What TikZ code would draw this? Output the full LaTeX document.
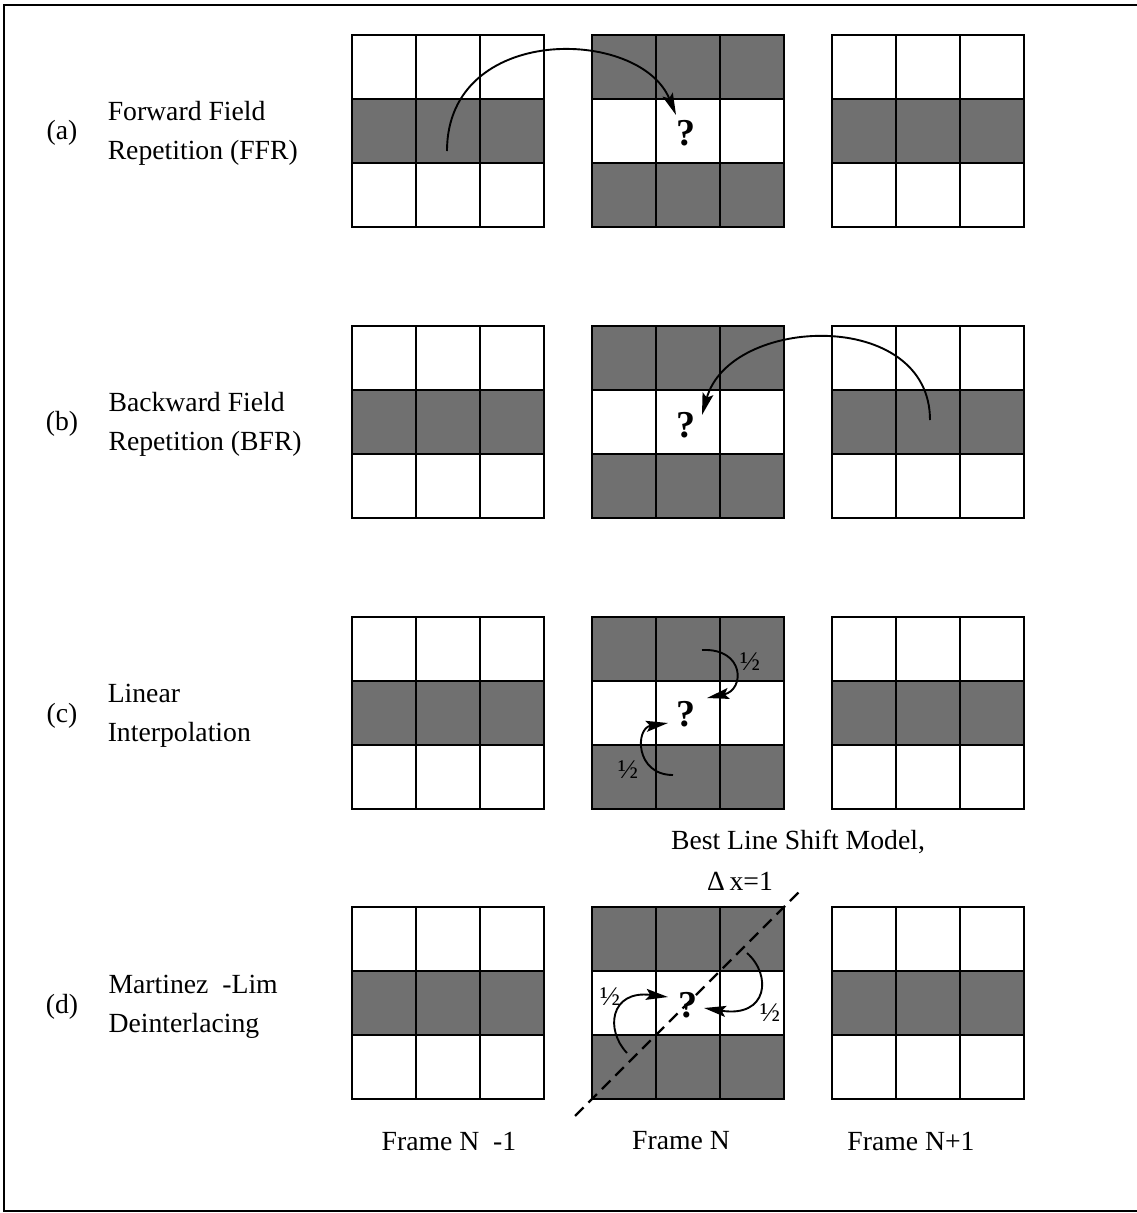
\documentclass[tikz,border=0pt]{standalone}
\usepackage{fontspec}
\setmainfont{Liberation Serif}
\usepackage{tikz}
\usetikzlibrary{positioning,arrows.meta}

\definecolor{cellgray}{RGB}{112,112,112}
\newcommand{\bodyfont}{\fontsize{27.7}{39}\selectfont}

% 3x3 block of pixels: name, left x, top y, list of shaded rows
\newcommand{\pixgrid}[4]{%
  \foreach \ii in {0,1,2}
    \foreach \jj in {0,1,2}
      \node[pix] (#1-\ii\jj) at (#2+32+64*\jj, #3+32+64*\ii) {};
  \foreach \ii in {#4}
    \foreach \jj in {0,1,2}
      \node[darkpix] at (#2+32+64*\jj, #3+32+64*\ii) {};
}

\begin{document}
\begin{tikzpicture}[x=1pt,y=-1pt,
    pix/.style={draw,line width=2.2pt,fill=white,minimum size=64pt,inner sep=0pt,outer sep=0pt},
    darkpix/.style={pix,fill=cellgray},
    flow/.style={line width=1.9pt,-{Stealth[length=22pt,width=11pt,inset=4pt]}},
    qmark/.style={font=\fontsize{38}{38}\selectfont\bfseries,inner sep=0pt},
    half/.style={font=\fontsize{27}{27}\selectfont,inner sep=0pt},
    rowtag/.style={font=\bodyfont,inner sep=0pt},
    desc/.style={font=\bodyfont,align=left,inner sep=0pt,anchor=west},
    lbl/.style={font=\bodyfont,inner sep=0pt}]
  \useasboundingbox (0,0) rectangle (1136,1213);
  \draw[line width=2pt] (4,5) rectangle (1160,1211);

  % the three frames for every method
  \foreach \lab/\ytop in {a/35,b/326,c/617,d/907}{
    \pixgrid{\lab-L}{352}{\ytop}{1}
    \pixgrid{\lab-M}{592}{\ytop}{0,2}
    \pixgrid{\lab-R}{832}{\ytop}{1}
  }

  % method names
  \node[rowtag] (a-tag) at (62,133)  {(a)};
  \node[rowtag] (b-tag) at (62,424)  {(b)};
  \node[rowtag] (c-tag) at (62,716)  {(c)};
  \node[rowtag] (d-tag) at (62,1007) {(d)};
  \node[desc] (a-txt) [right=30pt of a-tag.east] {Forward Field\\Repetition (FFR)};
  \node[desc] (b-txt) [right=30pt of b-tag.east] {Backward Field\\Repetition (BFR)};
  \node[desc] (c-txt) [right=30pt of c-tag.east] {Linear\\Interpolation};
  \node[desc] (d-txt) [right=30pt of d-tag.east] {Martinez\enspace-Lim\\Deinterlacing};

  % missing pixels
  \node[qmark] (a-q) at ([shift={(-2,2)}]a-M-11.center) {?};
  \node[qmark] (b-q) at ([shift={(-2,3)}]b-M-11.center) {?};
  \node[qmark] (c-q) at ([shift={(-2,1)}]c-M-11.center) {?};
  \node[qmark] (d-q) at ([shift={(0,2)}]d-M-11.center) {?};

  % end points of the arrows
  \coordinate (a-src)  at ([shift={(-1,20)}]a-L-11.center);
  \coordinate (a-dst)  at ([shift={(-12,-16)}]a-M-11.center);
  \coordinate (b-src)  at ([shift={(2,-2)}]b-R-11.center);
  \coordinate (b-dst)  at ([shift={(14,-7)}]b-M-11.center);
  \coordinate (c-src1) at ([shift={(14,1)}]c-M-01.center);
  \coordinate (c-dst1) at ([shift={(19,-15)}]c-M-11.center);
  \coordinate (c-src2) at ([shift={(-15,-2)}]c-M-21.center);
  \coordinate (c-dst2) at ([shift={(-20,10)}]c-M-11.center);
  \coordinate (d-src1) at ([shift={(3,-14)}]d-M-20.center);
  \coordinate (d-dst1) at ([shift={(-20,-6)}]d-M-11.center);
  \coordinate (d-src2) at ([shift={(-5,14)}]d-M-02.center);
  \coordinate (d-dst2) at ([shift={(16,5)}]d-M-11.center);

  \draw[flow] (a-src) .. controls +(0,-128) and +(-36,-88) .. (a-dst);
  \draw[flow] (b-src) .. controls +(0,-112) and +(28,-100) .. (b-dst);
  \draw[flow] (c-src1) .. controls +(43,-2) and +(38,-8) .. (c-dst1);
  \draw[flow] (c-src2) .. controls +(-38,0) and +(-33,5) .. (c-dst2);
  \draw[flow] (d-src1) .. controls +(-22,-23) and +(-58,-7) .. (d-dst1);
  \draw[flow] (d-src2) .. controls +(25,22) and +(64,10) .. (d-dst2);

  % weights
  \node[half] (c-half1) at ([shift={(-2,13)}]c-M-02.center) {½};
  \node[half] (c-half2) at ([shift={(4,-7)}]c-M-20.center) {½};
  \node[half] (d-half1) at ([shift={(-14,-6)}]d-M-10.center) {½};
  \node[half] (d-half2) at ([shift={(18,10)}]d-M-12.center) {½};

  % shift direction through the middle frame
  \draw[line width=2.2pt,dash pattern=on 12pt off 7pt,shorten <=-24pt,shorten >=-22pt]
    (d-M-20.south west) -- (d-M-02.north east);
  \node[lbl] (model) at (798,842) {Best Line Shift Model,};
  \node[lbl] (dx) at (740,881) {Δ\,x=1};

  % frame captions
  \node[lbl] (f-prev) at (449,1141) {Frame N\enspace-1};
  \node[lbl] (f-cur)  at (681,1141) {Frame N};
  \node[lbl] (f-next) at (911,1141) {Frame N+1};
\end{tikzpicture}
\end{document}
